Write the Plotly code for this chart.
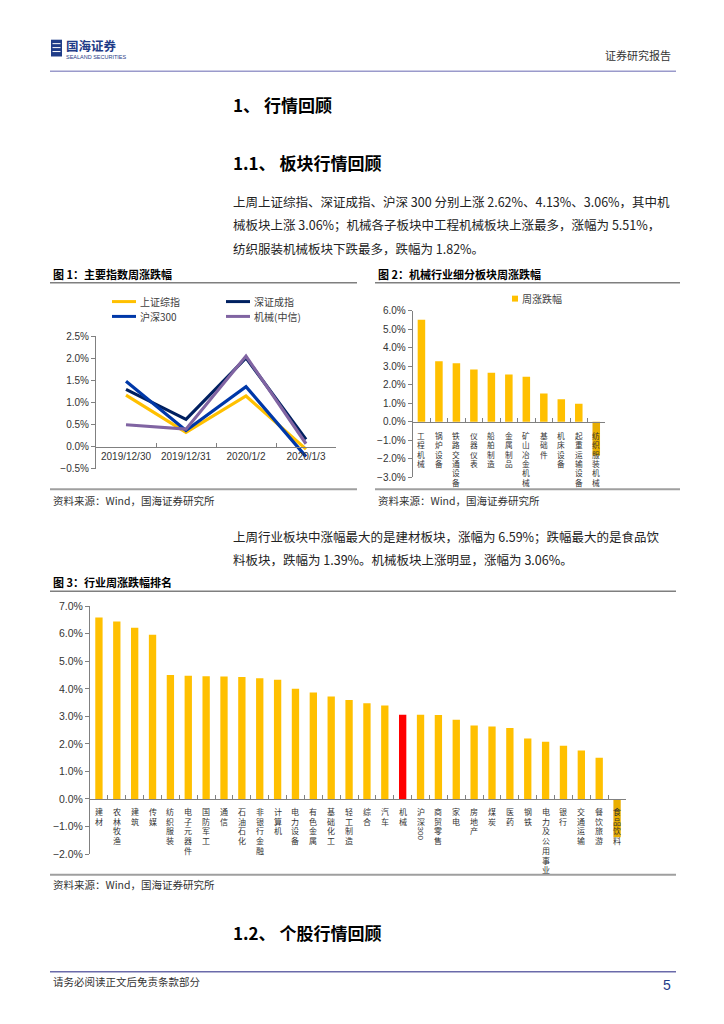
import plotly.graph_objects as go

W, H = 724, 1024
OX, OY = 8, 8  # page body margin offset in the browser


def px(x):
    return (x - OX) / W


def py(y):
    return 1 - (y - OY) / H


LAT = "Liberation Sans, Arial, Noto Sans CJK SC, sans-serif"
CJK = "Noto Sans CJK SC, Liberation Sans, sans-serif"

# ---------------- data ----------------
# Figure 1: main index daily change (%)
dates = ["2019/12/30", "2019/12/31", "2020/1/2", "2020/1/3"]
sh_composite = [1.17, 0.33, 1.15, -0.05]
sz_component = [1.30, 0.62, 2.01, 0.17]
csi300 = [1.48, 0.37, 1.36, -0.22]
machinery_citic = [0.50, 0.40, 2.05, 0.07]
series1_names = ["上证综指", "深证成指", "沪深300", "机械(中信)"]
series1_colors = ["#FFC000", "#002060", "#0038A8", "#8064A2"]

# Figure 2: machinery sub-sector weekly change (%)
sub_sectors = ["工程机械", "锅炉设备", "铁路交通设备", "仪器仪表", "船舶制造", "金属制品",
               "矿山冶金机械", "基础件", "机床设备", "起重运输设备", "纺织服装机械"]
sub_changes = [5.51, 3.27, 3.16, 2.82, 2.65, 2.56, 2.43, 1.52, 1.22, 0.97, -1.82]

# Figure 3: industry weekly change ranking (%)
industries = ["建材", "农林牧渔", "建筑", "传媒", "纺织服装", "电子元器件", "国防军工", "通信",
              "石油石化", "非银行金融", "计算机", "电力设备", "有色金属", "基础化工", "轻工制造",
              "综合", "汽车", "机械", "沪深300", "商贸零售", "家电", "房地产", "煤炭", "医药",
              "钢铁", "电力及公用事业", "银行", "交通运输", "餐饮旅游", "食品饮料"]
ind_changes = [6.59, 6.45, 6.22, 5.97, 4.50, 4.48, 4.46, 4.45, 4.43, 4.39, 4.33, 4.00, 3.87,
               3.72, 3.60, 3.48, 3.40, 3.06, 3.06, 3.05, 2.88, 2.67, 2.63, 2.58, 2.20, 2.08,
               1.93, 1.76, 1.50, -1.39]
highlight = "机械"

YELLOW = "#FFC000"
NEG = "#E9AE00"
RED = "#FF0000"
AXC = "#808080"
TXT = "#333333"

fig = go.Figure()

# ---------------- chart 1 ----------------
for name, vals, col in zip(series1_names, [sh_composite, sz_component, csi300, machinery_citic],
                           series1_colors):
    fig.add_trace(go.Scatter(x=dates, y=vals, mode="lines", name=name,
                             line=dict(color=col, width=3.2), xaxis="x", yaxis="y",
                             showlegend=False, hoverinfo="skip"))

# ---------------- chart 2 ----------------
fig.add_trace(go.Bar(x=sub_sectors, y=sub_changes, xaxis="x2", yaxis="y2", width=0.43,
                     marker=dict(color=[YELLOW if v >= 0 else NEG for v in sub_changes],
                                 line=dict(width=0)),
                     showlegend=False, hoverinfo="skip"))

# ---------------- chart 3 ----------------
fig.add_trace(go.Bar(x=industries, y=ind_changes, xaxis="x3", yaxis="y3", width=0.41,
                     marker=dict(color=[RED if c == highlight else (YELLOW if v >= 0 else NEG)
                                        for c, v in zip(industries, ind_changes)],
                                 line=dict(width=0)),
                     showlegend=False, hoverinfo="skip"))


def zero_pos(ydom, yr):
    return ydom[0] + (0 - yr[0]) / (yr[1] - yr[0]) * (ydom[1] - ydom[0])


c1_xd = [px(96), px(336)]
c1_yd = [py(468.4), py(334)]
c1_yr = [-0.5, 2.5]
c2_xd = [px(412.7), px(605)]
c2_yd = [py(476.7), py(308.3)]
c2_yr = [-3, 6]
c3_xd = [px(90), px(626)]
c3_yd = [py(858), py(607.3)]
c3_yr = [-2, 7]

xcommon = dict(type="category", showline=True, linecolor=AXC, linewidth=1, ticks="inside",
               tickson="boundaries", ticklen=4, tickcolor=AXC, showgrid=False, zeroline=False,
               anchor="free", fixedrange=True)
ycommon = dict(showline=True, linecolor=AXC, linewidth=1, ticks="outside", ticklen=4,
               tickcolor=AXC, showgrid=False, zeroline=False, ticksuffix="%",
               tickformat=".1f", fixedrange=True, tickfont=dict(family=LAT, size=10, color=TXT))

fig.update_layout(
    xaxis=dict(xcommon, domain=c1_xd, position=zero_pos(c1_yd, c1_yr), range=[-0.5, 3.5],
               tickfont=dict(family=LAT, size=10, color=TXT)),
    yaxis=dict(ycommon, domain=c1_yd, range=c1_yr, dtick=0.5, anchor="x"),
    xaxis2=dict(xcommon, domain=c2_xd, position=zero_pos(c2_yd, c2_yr), showticklabels=False,
                range=[-0.5, len(sub_sectors) - 0.5]),
    yaxis2=dict(ycommon, domain=c2_yd, range=c2_yr, dtick=1, anchor="x2"),
    xaxis3=dict(xcommon, domain=c3_xd, position=zero_pos(c3_yd, c3_yr), showticklabels=False,
                range=[-0.5, len(industries) - 0.5]),
    yaxis3=dict(ycommon, domain=c3_yd, range=c3_yr, dtick=1, anchor="x3",
                tickfont=dict(family=LAT, size=10.5, color=TXT)),
)


# vertical category labels: CJK chars stacked (one annotation), ascii runs rotated
def add_vertical_labels(labels, xref, yref, first, step, size):
    base = step / 1.3
    for lab in labels:
        runs = []
        for ch in lab:
            if ch.isascii():
                if runs and runs[-1][0] == "a":
                    runs[-1][1] += ch
                else:
                    runs.append(["a", ch])
            else:
                if runs and runs[-1][0] == "c":
                    runs[-1][1] += ch
                else:
                    runs.append(["c", ch])
        top = first - step / 2
        for kind, txt in runs:
            if kind == "c":
                body = "<br>".join('<span style="font-size:%.1fpx">%s</span>' % (size, c)
                                   for c in txt)
                fig.add_annotation(x=lab, y=0, xref=xref, yref=yref, text=body,
                                   showarrow=False, yshift=-top, yanchor="top",
                                   xanchor="center", borderpad=0,
                                   font=dict(family=CJK, size=base, color=TXT))
                top += step * len(txt)
            else:
                length = len(txt) * size * 0.56
                fig.add_annotation(x=lab, y=0, xref=xref, yref=yref, text=txt,
                                   showarrow=False, yshift=-(top + 1), textangle=90,
                                   yanchor="top", xanchor="center", borderpad=0,
                                   font=dict(family=LAT, size=size, color=TXT))
                top += length + 2


add_vertical_labels(sub_sectors, "x2", "y2", 11.5, 9.3, 7.7)
add_vertical_labels(industries, "x3", "y3", 10.5, 9.7, 8.0)

# ---------------- legends ----------------
leg_pos = [(112, 299), (226, 299), (112, 314), (226, 314)]
for (lx, ly), name, col in zip(leg_pos, series1_names, series1_colors):
    fig.add_shape(type="line", xref="paper", yref="paper", x0=px(lx), x1=px(lx + 24),
                  y0=py(ly), y1=py(ly), line=dict(color=col, width=3))
    fig.add_annotation(xref="paper", yref="paper", x=px(lx + 26), y=py(ly), text=name,
                       showarrow=False, xanchor="left", yanchor="middle",
                       font=dict(family=CJK, size=10, color="#404040"))

fig.add_shape(type="rect", xref="paper", yref="paper", x0=px(512), x1=px(518), y0=py(299),
              y1=py(293), fillcolor=YELLOW, line=dict(width=0))
fig.add_annotation(xref="paper", yref="paper", x=px(520), y=py(296), text="周涨跌幅",
                   showarrow=False, xanchor="left", yanchor="middle",
                   font=dict(family=CJK, size=10, color="#404040"))


# ---------------- page text ----------------
def text(x, y, s, size, color="#222222", bold=False, anchor="left", family=CJK):
    fig.add_annotation(xref="paper", yref="paper", x=px(x), y=py(y),
                       text=("<b>%s</b>" % s) if bold else s, showarrow=False,
                       xanchor=anchor, yanchor="middle", borderpad=0,
                       font=dict(family=family, size=size, color=color))


def hline(y, x0, x1, color, width):
    fig.add_shape(type="line", xref="paper", yref="paper", x0=px(x0), x1=px(x1), y0=py(y),
                  y1=py(y), line=dict(color=color, width=width))


# header
LOGO = "#1F3C88"
fig.add_shape(type="rect", xref="paper", yref="paper", x0=px(51), x1=px(62), y0=py(51),
              y1=py(34), fillcolor=LOGO, line=dict(width=0))
for yy in [38, 42, 46]:
    hline(yy, 52.5, 60.5, "white", 1)
text(65, 40, "国海证券", 12.5, LOGO, bold=True)
text(65, 51.5, "SEALAND SECURITIES", 5.5, LOGO, family=LAT)
text(672, 49, "证券研究报告", 11, "#333333", anchor="right")
hline(66, 50, 676, "#9A9ACB", 1.5)

text(232, 100, "1、 行情回顾", 17, "#000000", bold=True)
text(232, 158, "1.1、 板块行情回顾", 17, "#000000", bold=True)

para1 = ["上周上证综指、深证成指、沪深 300 分别上涨 2.62%、4.13%、3.06%，其中机",
         "械板块上涨 3.06%；机械各子板块中工程机械板块上涨最多，涨幅为 5.51%，",
         "纺织服装机械板块下跌最多，跌幅为 1.82%。"]
for i, s in enumerate(para1):
    text(232, 198 + i * 23.5, s, 12.5, "#222222")

# figure titles and frames
text(52, 271, "图 1：主要指数周涨跌幅", 11, "#000000", bold=True)
text(377, 271, "图 2：机械行业细分板块周涨跌幅", 11, "#000000", bold=True)
hline(280, 50, 357, "#7F7F7F", 1.5)
hline(280, 375, 680, "#7F7F7F", 1.5)
hline(489, 50, 357, "#9F9F9F", 2)
hline(489, 375, 680, "#9F9F9F", 2)
text(52, 500, "资料来源：Wind，国海证券研究所", 10.5, "#333333")
text(377, 500, "资料来源：Wind，国海证券研究所", 10.5, "#333333")

para2 = ["上周行业板块中涨幅最大的是建材板块，涨幅为 6.59%；跌幅最大的是食品饮",
         "料板块，跌幅为 1.39%。机械板块上涨明显，涨幅为 3.06%。"]
for i, s in enumerate(para2):
    text(232, 537 + i * 22.5, s, 12.5, "#222222")

text(52, 583, "图 3：行业周涨跌幅排名", 11, "#000000", bold=True)
hline(592, 50, 676, "#7F7F7F", 1.5)
hline(879, 50, 676, "#9F9F9F", 2)
text(52, 889, "资料来源：Wind，国海证券研究所", 10.5, "#333333")

text(232, 937, "1.2、 个股行情回顾", 17, "#000000", bold=True)

hline(977, 50, 676, "#6A6AAA", 1.5)
text(52, 987, "请务必阅读正文后免责条款部分", 10.5, "#333333")
text(672, 991, "5", 14, "#1F3C88", anchor="right", family=LAT)

fig.update_layout(width=W, height=H, margin=dict(l=0, r=0, t=0, b=0), autosize=False,
                  paper_bgcolor="white", plot_bgcolor="white", showlegend=False,
                  bargap=0.5)

fig.write_html("out.html")
